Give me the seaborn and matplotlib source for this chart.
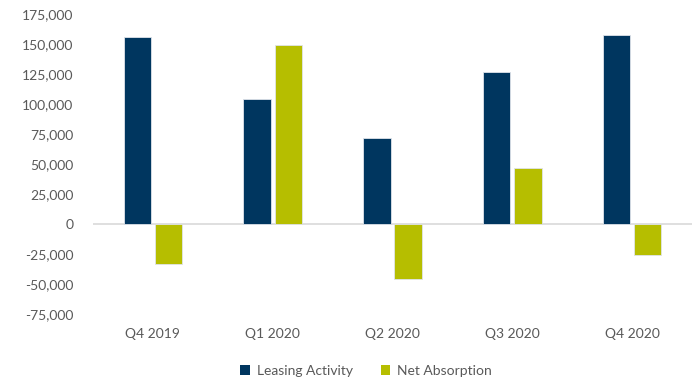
import matplotlib
matplotlib.use("Agg")
import matplotlib.pyplot as plt
import seaborn as sns
import pandas as pd
from matplotlib.ticker import FuncFormatter, MultipleLocator
from matplotlib.patches import Patch

quarters = ["Q4 2019", "Q1 2020", "Q2 2020", "Q3 2020", "Q4 2020"]
leasing_activity = [155500, 104000, 71500, 127000, 157500]
net_absorption = [-33000, 149000, -46000, 46500, -25500]
series_names = ["Leasing Activity", "Net Absorption"]
colors = ["#00365F", "#B6BE00"]

df = pd.DataFrame({
    "Quarter": quarters * 2,
    "Series": [series_names[0]] * len(quarters) + [series_names[1]] * len(quarters),
    "Value": leasing_activity + net_absorption,
})

sns.set_theme(style="white")
plt.rcParams["font.family"] = ["Lato", "DejaVu Sans"]

fig = plt.figure(figsize=(6.96, 3.82), dpi=100)
ax = fig.add_axes([93 / 696, 1 - 314 / 382, 599 / 696, 300 / 382])

sns.barplot(data=df, x="Quarter", y="Value", hue="Series", order=quarters,
            hue_order=series_names, palette=colors, saturation=1, width=0.52, gap=0.12,
            edgecolor="#dfe3ea", linewidth=0.6, ax=ax, legend=False)

ax.set_ylim(-75000, 175000)
ax.yaxis.set_major_locator(MultipleLocator(25000))
ax.yaxis.set_major_formatter(FuncFormatter(lambda v, p: "0" if v == 0 else f"{int(v):,}"))
ax.axhline(0, color="#d9d9d9", linewidth=1.2, zorder=0.5)
for s in ax.spines.values():
    s.set_visible(False)
ax.set_xlabel("")
ax.set_ylabel("")
ax.tick_params(axis="both", length=0, labelsize=10, colors="#595959")
ax.tick_params(axis="y", pad=14)
ax.tick_params(axis="x", pad=10)

handles = [Patch(facecolor=c, edgecolor="none") for c in colors]
leg = fig.legend(handles, series_names, loc="center", bbox_to_anchor=(0.526, 0.029),
                 ncol=2, frameon=False, fontsize=10, handlelength=0.7, handleheight=0.7,
                 handletextpad=0.5, columnspacing=2.0)
for t in leg.get_texts():
    t.set_color("#595959")

fig.savefig("out.png", dpi=100)
